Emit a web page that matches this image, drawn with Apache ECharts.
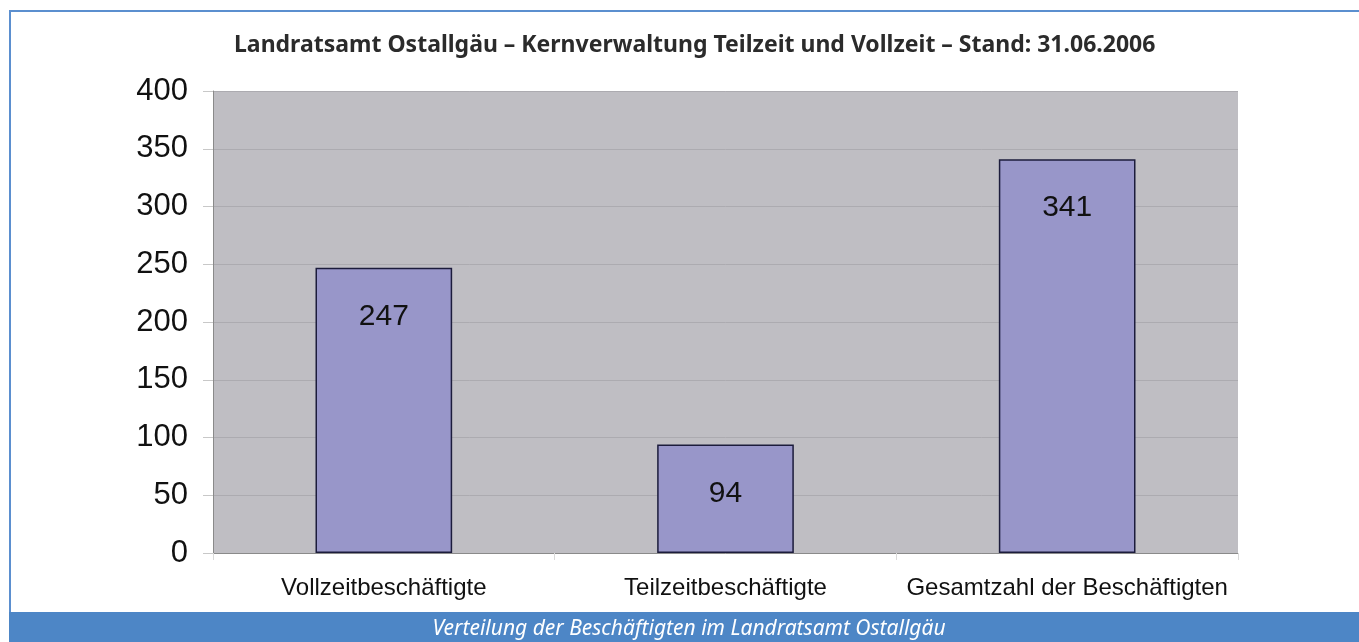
<!DOCTYPE html>
<html>
<head>
<meta charset="utf-8">
<script src="https://cdn.jsdelivr.net/npm/echarts@6/dist/echarts.min.js"></script>
<style>
  html, body { margin: 0; padding: 0; background: #fff; }
  #chart { width: 1359px; height: 642px; }
</style>
</head>
<body>
<div id="chart"></div>
<script>
// Beschäftigte im Landratsamt Ostallgäu, Stand 31.06.2006
const categories = ['Vollzeitbeschäftigte', 'Teilzeitbeschäftigte', 'Gesamtzahl der Beschäftigten'];
const employees = [247, 94, 341];
const yTicks = [0, 50, 100, 150, 200, 250, 300, 350, 400];

const chart = echarts.init(document.getElementById('chart'));

chart.setOption({
  animation: false,
  backgroundColor: '#ffffff',
  title: {
    text: 'Landratsamt Ostallgäu – Kernverwaltung Teilzeit und Vollzeit – Stand: 31.06.2006',
    left: 229,
    top: 29,
    textStyle: {
      fontFamily: 'Noto Sans',
      fontWeight: 'bold',
      fontSize: 23,
      color: '#2b2b2b'
    }
  },
  graphic: [
    // frame lines
    { type: 'rect', shape: { x: 9, y: 10, width: 1350, height: 2 }, style: { fill: '#5b8fcf' } },
    { type: 'rect', shape: { x: 9, y: 10, width: 2, height: 605 }, style: { fill: '#5b8fcf' } },
    // caption band
    { type: 'rect', shape: { x: 9, y: 612, width: 1350, height: 30 }, style: { fill: '#4d86c6' } },
    {
      type: 'text',
      x: 689, y: 629,
      style: {
        text: 'Verteilung der Beschäftigten im Landratsamt Ostallgäu',
        fill: '#ffffff',
        font: 'italic 21px "Noto Sans"',
        align: 'center',
        verticalAlign: 'middle'
      }
    }
  ],
  grid: {
    left: 213,
    right: 121,
    top: 91,
    bottom: 89,
    show: true,
    backgroundColor: '#bfbec3',
    borderWidth: 0
  },
  xAxis: {
    type: 'category',
    data: categories,
    axisLine: { lineStyle: { color: '#8a8a8a', width: 1 } },
    axisTick: { show: true, length: 7, lineStyle: { color: '#dadada' } },
    axisLabel: {
      interval: 0,
      color: '#111',
      fontFamily: 'Liberation Sans',
      fontSize: 24,
      margin: 23
    }
  },
  yAxis: {
    type: 'value',
    min: 0,
    max: 400,
    interval: 50,
    axisLine: { show: true, lineStyle: { color: '#8a8a8a', width: 1 } },
    axisTick: { show: true, length: 10, lineStyle: { color: '#c8c8c8' } },
    axisLabel: {
      color: '#111',
      fontFamily: 'Liberation Sans',
      fontSize: 31,
      margin: 25,
      padding: [4, 0, 0, 0],
      formatter: v => yTicks.includes(v) ? String(v) : ''
    },
    splitLine: { lineStyle: { color: '#acabb0', width: 1 } }
  },
  series: [{
    type: 'bar',
    data: employees,
    barWidth: '40%',
    itemStyle: {
      color: '#9896c9',
      borderColor: '#1c1c3c',
      borderWidth: 1.5
    },
    label: {
      show: true,
      position: 'insideTop',
      distance: 34,
      color: '#111',
      fontFamily: 'Liberation Sans',
      fontSize: 30
    }
  }]
});
</script>
</body>
</html>
